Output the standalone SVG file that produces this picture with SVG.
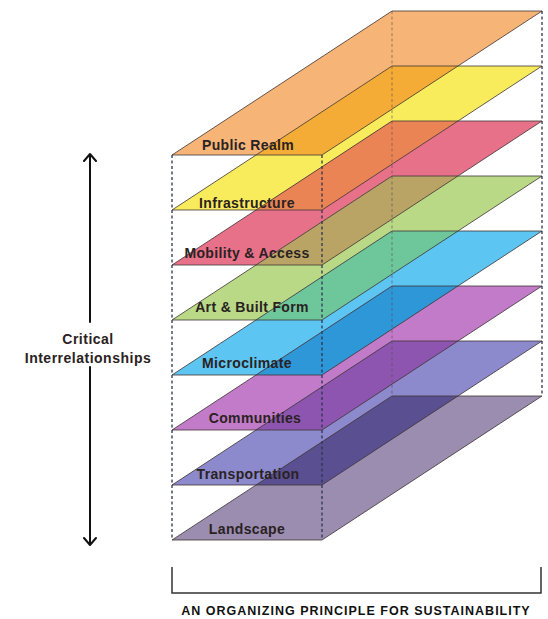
<svg xmlns="http://www.w3.org/2000/svg" width="548" height="619" viewBox="0 0 548 619">
<style>
.edge{fill:none;stroke:#3f3535;stroke-opacity:0.8;stroke-width:1;stroke-linejoin:round}
.ov{stroke:none}
.lbl{font-family:"Liberation Sans",Arial,sans-serif;font-weight:bold;font-size:14px;fill:#2a2222;text-anchor:middle;letter-spacing:0.35px}
.dash{stroke:#2f3450;stroke-width:1.3;stroke-dasharray:3 2.5;fill:none}
.dash.back{stroke:#5a4a50;stroke-opacity:0.45}
.arrow{stroke:#111;stroke-width:2;fill:none;stroke-linecap:round;stroke-linejoin:round}
</style>
<rect width="548" height="619" fill="#ffffff"/>
<g id="layers">
<g id="public-realm"><polygon points="172,155 322,155 542,11 392,11" fill="#F6B477"/></g>
<g id="infrastructure"><polygon points="172,210 322,210 542,66 392,66" fill="#F9EC5C"/></g>
<g id="mobility-access"><polygon points="172,265 322,265 542,121 392,121" fill="#E8718A"/></g>
<g id="art-built-form"><polygon points="172,320 322,320 542,176 392,176" fill="#B9D987"/></g>
<g id="microclimate"><polygon points="172,375 322,375 542,231 392,231" fill="#5CC5F2"/></g>
<g id="communities"><polygon points="172,430 322,430 542,286 392,286" fill="#C27BC8"/></g>
<g id="transportation"><polygon points="172,485 322,485 542,341 392,341" fill="#8C89CC"/></g>
<g id="landscape"><polygon points="172,540 322,540 542,396 392,396" fill="#9A8DB0"/></g>
</g>
<g id="overlaps">
<polygon class="ov" points="256,155 322,155 458,66 392,66" fill="#F4AC36"/>
<polygon class="ov" points="256,210 322,210 458,121 392,121" fill="#EB8455"/>
<polygon class="ov" points="256,265 322,265 458,176 392,176" fill="#B9A466"/>
<polygon class="ov" points="256,320 322,320 458,231 392,231" fill="#6EC79A"/>
<polygon class="ov" points="256,375 322,375 458,286 392,286" fill="#2E97D8"/>
<polygon class="ov" points="256,430 322,430 458,341 392,341" fill="#8E55B0"/>
<polygon class="ov" points="256,485 322,485 458,396 392,396" fill="#5A4F90"/>
</g>
<g id="outlines">
<polygon class="edge" points="172,155 322,155 542,11 392,11"/>
<polygon class="edge" points="172,210 322,210 542,66 392,66"/>
<polygon class="edge" points="172,265 322,265 542,121 392,121"/>
<polygon class="edge" points="172,320 322,320 542,176 392,176"/>
<polygon class="edge" points="172,375 322,375 542,231 392,231"/>
<polygon class="edge" points="172,430 322,430 542,286 392,286"/>
<polygon class="edge" points="172,485 322,485 542,341 392,341"/>
<polygon class="edge" points="172,540 322,540 542,396 392,396"/>
</g>
<g id="connectors">
<line class="dash back" x1="392" y1="11" x2="392" y2="396"/>
<line class="dash" x1="172" y1="155" x2="172" y2="540"/>
<line class="dash" x1="322" y1="155" x2="322" y2="540"/>
<line class="dash" x1="542" y1="11" x2="542" y2="396"/>
<path class="arrow" d="M90,155 V322 M84,161 L90,154 L96,161"/>
<path class="arrow" d="M90,367 V544 M84,538 L90,545 L96,538"/>
<path d="M172,567 V593 H541 V567" fill="none" stroke="#333" stroke-width="1.5"/>
</g>
<g id="labels">
<text class="lbl" x="248" y="150">Public Realm</text>
<text class="lbl" x="247" y="208">Infrastructure</text>
<text class="lbl" x="247" y="258">Mobility &amp; Access</text>
<text class="lbl" x="252" y="312">Art &amp; Built Form</text>
<text class="lbl" x="247" y="368">Microclimate</text>
<text class="lbl" x="255" y="423">Communities</text>
<text class="lbl" x="248" y="479">Transportation</text>
<text class="lbl" x="247" y="534">Landscape</text>
<text class="lbl" x="88" y="344" style="letter-spacing:0.5px">Critical</text>
<text class="lbl" x="88" y="363" style="letter-spacing:0.5px">Interrelationships</text>
<text class="lbl" x="356" y="615" style="font-size:12.5px;letter-spacing:1px;fill:#111">AN ORGANIZING PRINCIPLE FOR SUSTAINABILITY</text>
</g>
</svg>
